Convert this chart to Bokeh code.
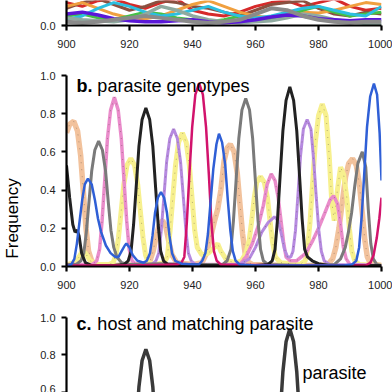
from bokeh.plotting import figure
from bokeh.layouts import column, row
from bokeh.models import Range1d, FixedTicker, PrintfTickFormatter, Label
from bokeh.core.properties import value
from bokeh.embed import file_html
from bokeh.resources import INLINE
import math

FONT = "Liberation Sans"

# ---------------- panel a: host genotypes (only the bottom strip is visible) -------------
host_x = [900, 905, 910, 915, 920, 925, 930, 935, 940, 945, 950, 955, 960, 965, 970, 975, 980, 985, 990, 995, 1000]
host_red = [0.12, 0.10, 0.13, 0.14, 0.11, 0.09, 0.12, 0.14, 0.08, 0.06, 0.05, 0.07, 0.10, 0.12, 0.13, 0.10, 0.12, 0.14, 0.10, 0.08, 0.09]
host_brown = [0.09, 0.12, 0.14, 0.11, 0.08, 0.10, 0.13, 0.12, 0.10, 0.09, 0.07, 0.05, 0.08, 0.11, 0.12, 0.13, 0.09, 0.06, 0.05, 0.07, 0.06]
host_orange = [0.10, 0.12, 0.09, 0.06, 0.04, 0.035, 0.05, 0.08, 0.11, 0.13, 0.10, 0.07, 0.05, 0.04, 0.06, 0.07, 0.065, 0.08, 0.10, 0.12, 0.11]
host_green = [0.05, 0.06, 0.04, 0.03, 0.05, 0.07, 0.06, 0.04, 0.03, 0.02, 0.03, 0.05, 0.04, 0.03, 0.05, 0.08, 0.10, 0.07, 0.05, 0.06, 0.07]
host_cyan = [0.03, 0.05, 0.09, 0.12, 0.10, 0.07, 0.05, 0.06, 0.08, 0.10, 0.07, 0.05, 0.04, 0.05, 0.07, 0.09, 0.10, 0.08, 0.06, 0.05, 0.10]
host_teal = [0.04, 0.03, 0.025, 0.02, 0.03, 0.06, 0.10, 0.08, 0.05, 0.03, 0.02, 0.015, 0.02, 0.025, 0.04, 0.06, 0.05, 0.03, 0.02, 0.01, 0.01]
host_purple = [0.06, 0.07, 0.055, 0.035, 0.025, 0.02, 0.02, 0.025, 0.03, 0.02, 0.015, 0.02, 0.03, 0.045, 0.055, 0.05, 0.035, 0.03, 0.025, 0.03, 0.03]
host_gray = [0.02, 0.015, 0.02, 0.03, 0.04, 0.05, 0.04, 0.03, 0.02, 0.015, 0.02, 0.03, 0.06, 0.09, 0.08, 0.05, 0.03, 0.02, 0.015, 0.02, 0.02]

# ---------------- panel b: parasite genotypes -------------
peach_x = [900, 901, 902.3, 903.5, 904.5, 905.4, 906.2, 907, 908, 909.5, 915, 925, 926.5, 927.5, 928.5, 929.5, 930.5, 931.5, 932.5, 933.5, 935, 940,
           943, 944.5, 946, 947, 948, 949, 950, 951, 952, 953.2, 954.2, 955.1, 955.9, 956.7, 957.6, 959, 970, 980,
           983, 984.5, 985.5, 986.5, 987.5, 988.6, 989.6, 990.8, 992, 993, 993.9, 994.7, 995.5, 996.5, 1000]
peach_y = [0.70, 0.745, 0.76, 0.71, 0.58, 0.38, 0.20, 0.08, 0.03, 0.01, 0.005, 0.01, 0.03, 0.08, 0.16, 0.22, 0.24, 0.21, 0.13, 0.06, 0.02, 0.01,
           0.02, 0.07, 0.17, 0.24, 0.30, 0.40, 0.55, 0.62, 0.64, 0.60, 0.49, 0.32, 0.17, 0.07, 0.025, 0.01, 0.005, 0.005,
           0.01, 0.04, 0.10, 0.20, 0.33, 0.47, 0.54, 0.565, 0.53, 0.43, 0.28, 0.14, 0.05, 0.015, 0.005]

yellow_x = [900, 902.5, 904, 905, 906, 907.5, 910, 913.4, 914.8, 915.7, 916.5, 917.3, 918.2, 919.2, 920.4, 921.6, 922.6, 923.5, 924.3, 925.1, 926, 928,
            931, 932, 932.9, 933.7, 934.6, 935.6, 936.8, 938, 939, 939.9, 940.7, 941.5, 943, 945, 947, 948, 949, 951, 954,
            955.5, 957, 958, 958.8, 959.6, 960.4, 961.6, 962.8, 963.8, 964.6, 965.4, 966.3, 968,
            974, 975.8, 976.5, 977.3, 978.1, 979, 980, 981.2, 982.4, 983.4, 984.2, 985, 986, 987, 988, 989, 989.8, 990.6, 991.5, 993, 1000]
yellow_y = [0.01, 0.02, 0.05, 0.08, 0.07, 0.03, 0.01, 0.01, 0.02, 0.06, 0.15, 0.28, 0.43, 0.53, 0.565, 0.53, 0.43, 0.28, 0.15, 0.06, 0.02, 0.01,
            0.02, 0.05, 0.19, 0.35, 0.53, 0.65, 0.70, 0.65, 0.53, 0.35, 0.19, 0.10, 0.06, 0.07, 0.10, 0.12, 0.08, 0.03, 0.02,
            0.03, 0.07, 0.14, 0.24, 0.36, 0.44, 0.47, 0.44, 0.36, 0.24, 0.13, 0.05, 0.02,
            0.01, 0.03, 0.09, 0.23, 0.43, 0.65, 0.79, 0.85, 0.79, 0.58, 0.34, 0.24, 0.40, 0.52, 0.48, 0.36, 0.20, 0.08, 0.03, 0.01, 0.005]

pink_x = [900, 905, 908.2, 909.6, 910.5, 911.3, 912.1, 913, 914, 915.2, 916.4, 917.4, 918.3, 919.1, 919.9, 920.8, 922.2, 935, 950,
          955, 957, 959, 961, 962.5, 963.7, 965, 966.2, 967.2, 968.1, 968.9, 969.7, 971, 973, 976, 978, 980, 982, 983.7, 984.8, 986, 987, 987.9, 988.8, 990, 1000]
pink_y = [0.01, 0.01, 0.01, 0.03, 0.09, 0.24, 0.44, 0.67, 0.82, 0.886, 0.82, 0.67, 0.44, 0.24, 0.09, 0.03, 0.01, 0.01, 0.01,
          0.01, 0.05, 0.12, 0.22, 0.32, 0.43, 0.485, 0.45, 0.36, 0.24, 0.13, 0.05, 0.03, 0.03, 0.07, 0.13, 0.20, 0.28, 0.35, 0.37, 0.33, 0.22, 0.10, 0.04, 0.01, 0.005]

lavender_x = [900, 920, 927, 928.4, 929.3, 930.1, 930.9, 931.8, 932.8, 934, 935.2, 936.2, 937.1, 937.9, 938.7, 939.6, 941,
              955, 958, 960, 962, 964, 966, 967.2, 968.2, 969.2, 970.2, 971.2, 971.9, 972.7, 973.5, 974.3, 975.2, 976.4, 977.6, 978.5, 979.3, 980.1, 980.9, 981.8, 983.5, 1000]
lavender_y = [0.005, 0.005, 0.01, 0.03, 0.07, 0.19, 0.36, 0.55, 0.67, 0.72, 0.67, 0.55, 0.36, 0.19, 0.07, 0.03, 0.01,
              0.01, 0.04, 0.10, 0.18, 0.23, 0.26, 0.24, 0.17, 0.09, 0.05, 0.05, 0.08, 0.19, 0.38, 0.58, 0.72, 0.77, 0.72, 0.55, 0.36, 0.19, 0.08, 0.03, 0.01, 0.005]

gray_x = [900, 903, 904.6, 905.5, 906.3, 907.1, 908, 909, 910.2, 911.4, 912.4, 913.3, 914.1, 915, 916, 917.5, 920, 930, 940,
          949.5, 951, 952.2, 953, 953.8, 954.7, 955.7, 956.9, 958.1, 959.1, 960, 960.8, 961.6, 962.5, 964, 975,
          985, 987, 988.5, 989.5, 990.5, 991.5, 992.5, 993.9, 995, 995.8, 996.6, 997.4, 998.5, 1000]
gray_y = [0.01, 0.01, 0.03, 0.07, 0.18, 0.33, 0.50, 0.61, 0.656, 0.61, 0.50, 0.33, 0.19, 0.10, 0.05, 0.02, 0.01, 0.015, 0.01,
          0.01, 0.03, 0.09, 0.24, 0.44, 0.67, 0.82, 0.88, 0.82, 0.67, 0.44, 0.24, 0.09, 0.03, 0.01, 0.005,
          0.01, 0.04, 0.10, 0.18, 0.28, 0.42, 0.54, 0.60, 0.52, 0.30, 0.12, 0.04, 0.01, 0.005]

black_x = [900, 901, 902, 902.7, 903.4, 904, 904.8, 906, 908, 915,
           918.2, 919.6, 920.5, 921.3, 922.1, 923, 924, 925.2, 926.4, 927.4, 928.3, 929.1, 929.9, 930.8, 932.2, 945, 960,
           963.9, 965.3, 966.2, 967, 967.8, 968.7, 969.7, 970.9, 972.1, 973.1, 974, 974.8, 975.6, 976.5, 978, 980, 983, 1000]
black_y = [0.53, 0.36, 0.22, 0.18, 0.19, 0.16, 0.07, 0.02, 0.005, 0.005,
           0.01, 0.03, 0.08, 0.22, 0.41, 0.63, 0.77, 0.83, 0.77, 0.63, 0.41, 0.22, 0.08, 0.03, 0.01, 0.005, 0.005,
           0.01, 0.03, 0.09, 0.25, 0.47, 0.71, 0.87, 0.94, 0.87, 0.71, 0.47, 0.25, 0.09, 0.05, 0.03, 0.015, 0.005, 0.005]

magenta_x = [900, 920, 935.1, 936.5, 937.4, 938.2, 939, 939.9, 940.9, 942.1, 943.3, 944.3, 945.2, 946, 946.8, 947.7, 949, 970,
             995, 996.5, 997.5, 998.5, 999.3, 1000]
magenta_y = [0.005, 0.005, 0.01, 0.02, 0.05, 0.23, 0.48, 0.73, 0.90, 0.96, 0.90, 0.73, 0.48, 0.23, 0.08, 0.03, 0.01, 0.005,
             0.005, 0.02, 0.06, 0.15, 0.25, 0.36]

blue_x = [900, 901.5, 902.5, 903.3, 904.1, 905, 905.8, 906.8, 908, 909, 910, 911, 912.5, 914, 915.5, 916.5, 917.5, 918.5, 919, 920, 921, 922.5, 924.5,
          925.5, 926.5, 927.3, 928.1, 929, 930, 931, 931.9, 932.7, 933.5, 934.5, 936.5, 940,
          942, 943.1, 944.1, 944.9, 945.7, 946.6, 947.6, 948.4, 949.4, 950.4, 951.2, 952, 952.8, 953.7, 955, 960, 988,
          990.6, 992, 992.9, 993.7, 994.5, 995.4, 996.4, 997.6, 998.6, 999.4, 1000]
blue_y = [0.0, 0.01, 0.04, 0.12, 0.23, 0.35, 0.43, 0.46, 0.43, 0.35, 0.25, 0.18, 0.11, 0.07, 0.05, 0.05, 0.08, 0.11, 0.12, 0.10, 0.06, 0.03, 0.02,
          0.03, 0.07, 0.16, 0.28, 0.36, 0.39, 0.36, 0.28, 0.16, 0.07, 0.03, 0.015, 0.01,
          0.01, 0.03, 0.07, 0.17, 0.33, 0.51, 0.64, 0.695, 0.65, 0.53, 0.35, 0.19, 0.08, 0.03, 0.01, 0.005, 0.005,
          0.01, 0.03, 0.10, 0.26, 0.48, 0.73, 0.89, 0.957, 0.90, 0.70, 0.45]

x_ticks = [900, 920, 940, 960, 980, 1000]
y_ticks = [0.0, 0.2, 0.4, 0.6, 0.8, 1.0]


def style(p, show_x=True):
    p.xgrid.visible = False
    p.ygrid.visible = False
    p.outline_line_color = None
    p.background_fill_color = "white"
    p.border_fill_color = "white"
    axes = list(p.yaxis) + (list(p.xaxis) if show_x else [])
    for ax in axes:
        ax.axis_line_width = 2.2
        ax.axis_line_color = "black"
        ax.major_tick_line_width = 2.2
        ax.major_tick_line_color = "black"
        ax.major_tick_out = 5
        ax.major_tick_in = 0
        ax.minor_tick_line_color = None
        ax.major_label_text_font = FONT
        ax.major_label_text_font_size = "11px"
        ax.major_label_text_color = "#222222"
    p.yaxis.ticker = FixedTicker(ticks=y_ticks)
    p.yaxis.formatter = PrintfTickFormatter(format="%.1f")
    p.yaxis.major_label_standoff = 6
    if show_x:
        p.xaxis.ticker = FixedTicker(ticks=x_ticks)
        p.xaxis.major_label_standoff = 9


LW = 24          # width of the strip that carries the y title
W = 392 - LW
TFS = "18px"     # panel heading size
common = dict(min_border_left=66 - LW, min_border_right=11, toolbar_location=None,
              output_backend="svg", title=None)

# panel a
pa = figure(width=W, height=58, x_range=Range1d(900, 1000), y_range=Range1d(0, 0.131),
            min_border_top=0, min_border_bottom=33, **common)
style(pa)
for ys, col, w in [(host_red, "#d62a2a", 3), (host_brown, "#8a5040", 3), (host_orange, "#f0a040", 3),
                   (host_green, "#46c046", 3), (host_cyan, "#2cbfe0", 3), (host_teal, "#8faaa0", 3.5),
                   (host_purple, "#5a17d8", 3.5), (host_gray, "#8a8a8a", 4)]:
    pa.line(host_x, ys, line_color=col, line_width=w)

# panel b
pb = figure(width=W, height=241, x_range=Range1d(900, 1000), y_range=Range1d(0, 1.0),
            min_border_top=17, min_border_bottom=33, **common)
style(pb)
light = [(peach_x, peach_y, "#f2c29c", 5.5), (yellow_x, yellow_y, "#f7f08e", 5),
         (pink_x, pink_y, "#ea8ccb", 3.5), (lavender_x, lavender_y, "#b68ae0", 3)]
for xs, ys, col, w in light:
    pb.line(xs, ys, line_color=col, line_width=w)
    pb.line(xs, ys, line_color="#5a4a40", line_width=0.7, line_dash="1 6", line_alpha=0.6)
pb.line(gray_x, gray_y, line_color="#7a7a7a", line_width=3)
pb.line(black_x, black_y, line_color="#222222", line_width=3)
pb.line(magenta_x, magenta_y, line_color="#d2136c", line_width=2.5)
pb.line(blue_x, blue_y, line_color="#2f5fd6", line_width=2.5)

pb.add_layout(Label(x=903.2, y=0.945, text="b.", text_font=FONT, text_font_style="bold",
                    text_font_size=TFS, text_color="black", text_baseline="alphabetic"))
pb.add_layout(Label(x=909.8, y=0.945, text="parasite genotypes", text_font=FONT,
                    text_font_size=TFS, text_color="black", text_baseline="alphabetic"))

# panel c (frame extends a little above 1.0 so the heading fits; axis line stops at 1.0)
pc = figure(width=W, height=93, x_range=Range1d(900, 1000), y_range=Range1d(0.599, 1.043),
            min_border_top=10, min_border_bottom=0, x_axis_location=None, **common)
style(pc, show_x=False)
pc.yaxis.bounds = (0.0, 1.0)
pc.line(black_x, black_y, line_color="#3a3a3a", line_width=3.5)
pc.add_layout(Label(x=903.2, y=0.966, text="c.", text_font=FONT, text_font_style="bold",
                    text_font_size=TFS, text_color="black", text_baseline="alphabetic"))
pc.add_layout(Label(x=909.8, y=0.966, text="host and matching parasite", text_font=FONT,
                    text_font_size=TFS, text_color="black", text_baseline="alphabetic"))
pc.add_layout(Label(x=974.9, y=0.705, text="parasite", text_font=FONT,
                    text_font_size=TFS, text_color="black", text_baseline="alphabetic"))

# left strip with the shared y title
ylab_x = [12]
ylab_y = [218]
ylab_text = ["Frequency"]
pl = figure(width=LW, height=392, x_range=Range1d(0, LW), y_range=Range1d(392, 0),
            min_border_left=0, min_border_right=0, min_border_top=0, min_border_bottom=0,
            x_axis_location=None, y_axis_location=None, toolbar_location=None,
            output_backend="svg", title=None)
pl.xgrid.visible = False
pl.ygrid.visible = False
pl.outline_line_color = None
pl.text(x=ylab_x, y=ylab_y, text=ylab_text, angle=math.pi / 2, text_align="center",
        text_baseline="middle", text_font=value(FONT), text_font_size="17px", text_color="black")

layout = row(pl, column(pa, pb, pc, spacing=0), spacing=0)
open("out.html", "w").write(file_html(layout, INLINE))
